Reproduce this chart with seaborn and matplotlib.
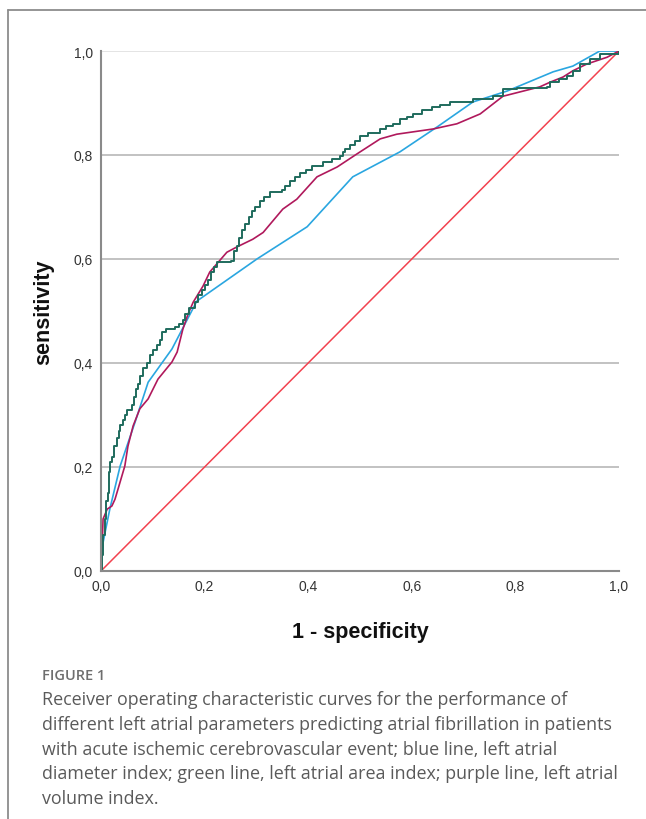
import matplotlib
matplotlib.use("Agg")
import matplotlib.pyplot as plt
import seaborn as sns
import pandas as pd

# ---- data ----
blue_fpr = [0.0, 0.003, 0.017, 0.037, 0.066, 0.091, 0.137, 0.185, 0.301, 0.398,
            0.486, 0.577, 0.649, 0.718, 0.784, 0.873, 0.911, 0.963, 1.0]
blue_tpr = [0.0, 0.05, 0.119, 0.202, 0.287, 0.363, 0.427, 0.519, 0.600, 0.662,
            0.758, 0.806, 0.854, 0.902, 0.923, 0.960, 0.971, 1.0, 1.0]

green_fpr = [0.0, 0.002, 0.004, 0.008, 0.010, 0.013, 0.015, 0.017, 0.022, 0.026,
             0.030, 0.034, 0.037, 0.042, 0.046, 0.050, 0.060, 0.064, 0.068, 0.071,
             0.076, 0.082, 0.089, 0.094, 0.100, 0.108, 0.113, 0.118, 0.125, 0.143,
             0.150, 0.158, 0.163, 0.170, 0.181, 0.188, 0.195, 0.200, 0.206, 0.212,
             0.218, 0.224, 0.250, 0.256, 0.262, 0.266, 0.272, 0.278, 0.285, 0.291,
             0.298, 0.307, 0.315, 0.326, 0.349, 0.356, 0.365, 0.375, 0.384, 0.395,
             0.407, 0.429, 0.445, 0.461, 0.467, 0.471, 0.480, 0.490, 0.500, 0.515,
             0.539, 0.550, 0.564, 0.577, 0.590, 0.602, 0.620, 0.639, 0.655, 0.674,
             0.718, 0.757, 0.776, 0.803, 0.861, 0.867, 0.885, 0.900, 0.911, 0.925,
             0.944, 0.963, 1.0]
green_tpr = [0.0, 0.03, 0.07, 0.10, 0.135, 0.15, 0.19, 0.21, 0.22, 0.24,
             0.255, 0.27, 0.28, 0.29, 0.30, 0.31, 0.32, 0.335, 0.35, 0.36,
             0.375, 0.39, 0.40, 0.415, 0.425, 0.435, 0.445, 0.46, 0.465, 0.47,
             0.475, 0.483, 0.495, 0.505, 0.517, 0.53, 0.54, 0.55, 0.56, 0.575,
             0.585, 0.594, 0.597, 0.615, 0.625, 0.64, 0.655, 0.667, 0.68, 0.692,
             0.70, 0.712, 0.72, 0.728, 0.733, 0.74, 0.75, 0.757, 0.765, 0.772,
             0.779, 0.786, 0.792, 0.798, 0.805, 0.812, 0.82, 0.827, 0.837, 0.842,
             0.85, 0.856, 0.86, 0.869, 0.874, 0.879, 0.886, 0.892, 0.897, 0.902,
             0.908, 0.913, 0.927, 0.929, 0.93, 0.94, 0.946, 0.952, 0.962, 0.975,
             0.985, 0.994, 1.0]

purple_fpr = [0.0, 0.001, 0.004, 0.012, 0.021, 0.027, 0.033, 0.046, 0.052, 0.062,
              0.075, 0.091, 0.110, 0.137, 0.147, 0.158, 0.168, 0.178, 0.197, 0.210,
              0.243, 0.262, 0.293, 0.313, 0.351, 0.378, 0.417, 0.456, 0.494, 0.539,
              0.571, 0.641, 0.687, 0.732, 0.776, 0.847, 0.867, 0.892, 0.911, 0.938,
              0.977, 1.0]
purple_tpr = [0.0, 0.01, 0.10, 0.119, 0.125, 0.138, 0.158, 0.202, 0.24, 0.279,
              0.312, 0.331, 0.369, 0.402, 0.421, 0.465, 0.494, 0.517, 0.548, 0.575,
              0.613, 0.623, 0.638, 0.651, 0.696, 0.715, 0.758, 0.777, 0.802, 0.831,
              0.840, 0.850, 0.860, 0.879, 0.913, 0.931, 0.940, 0.950, 0.962, 0.975,
              0.988, 1.0]

ref_fpr = [0.0, 1.0]
ref_tpr = [0.0, 1.0]

x_ticks = [0.0, 0.2, 0.4, 0.6, 0.8, 1.0]
tick_labels = ["0,0", "0,2", "0,4", "0,6", "0,8", "1,0"]

caption_head = "FIGURE 1"
caption_lines = [
    "Receiver operating characteristic curves for the performance of",
    "different left atrial parameters predicting atrial fibrillation in patients",
    "with acute ischemic cerebrovascular event; blue line, left atrial",
    "diameter index; green line, left atrial area index; purple line, left atrial",
    "volume index.",
]

# ---- figure ----
sns.set_style("white")
plt.rcParams["font.family"] = ["Liberation Sans", "DejaVu Sans"]

fig = plt.figure(figsize=(6.46, 8.2), dpi=100)
ax = fig.add_axes([101 / 646, 1 - 572 / 820, 518 / 646, 520 / 820])

df_blue = pd.DataFrame({"fpr": blue_fpr, "tpr": blue_tpr})
df_green = pd.DataFrame({"fpr": green_fpr, "tpr": green_tpr})
df_purple = pd.DataFrame({"fpr": purple_fpr, "tpr": purple_tpr})
df_ref = pd.DataFrame({"fpr": ref_fpr, "tpr": ref_tpr})

# gridlines
for yv in x_ticks[1:]:
    ax.axhline(yv, color="#e2e2e2" if yv == 1.0 else "#bdbdbd", lw=1.3, zorder=0)

sns.lineplot(data=df_ref, x="fpr", y="tpr", ax=ax, sort=False, estimator=None,
             color="#f2424f", lw=1.1)
sns.lineplot(data=df_blue, x="fpr", y="tpr", ax=ax, sort=False, estimator=None,
             color="#2aa6e0", lw=1.2)
sns.lineplot(data=df_purple, x="fpr", y="tpr", ax=ax, sort=False, estimator=None,
             color="#b0195c", lw=1.2)
sns.lineplot(data=df_green, x="fpr", y="tpr", ax=ax, sort=False, estimator=None,
             color="#1f6b5d", lw=1.4, drawstyle="steps-post")

ax.set_xlim(0, 1)
ax.set_ylim(0, 1)
ax.set_xticks(x_ticks)
ax.set_xticklabels(tick_labels)
ax.set_yticks(x_ticks)
ax.set_yticklabels(tick_labels)
ax.tick_params(axis="both", length=0, labelsize=10, colors="#333333", pad=6)
for s in ["top", "right"]:
    ax.spines[s].set_visible(False)
for s in ["left", "bottom"]:
    ax.spines[s].set_color("#8a8a8a")
    ax.spines[s].set_linewidth(1.5)
ax.set_xlabel("1 - specificity", fontsize=15.5, fontweight="bold", color="#111111", labelpad=20)
ax.set_ylabel("sensitivity", fontsize=15.5, fontweight="bold", color="#111111", labelpad=14)

# frame lines
fig.add_artist(plt.Line2D([8 / 646, 8 / 646], [0, 1 - 11 / 820], color="#8c8c8c", lw=1.3))
fig.add_artist(plt.Line2D([8 / 646, 1], [1 - 11 / 820, 1 - 11 / 820], color="#8c8c8c", lw=1.3))

# caption
fig.text(42 / 646, 1 - 676 / 820, caption_head, fontsize=10.5, color="#6e6e6e",
         family=["Open Sans", "DejaVu Sans"], va="center", ha="left", fontweight="semibold")
for i, line in enumerate(caption_lines):
    fig.text(42 / 646, 1 - (700 + 24.8 * i) / 820, line, fontsize=12.85, color="#5a5a5a",
             family=["Open Sans", "DejaVu Sans"], va="center", ha="left")

fig.savefig("out.png", dpi=100)
